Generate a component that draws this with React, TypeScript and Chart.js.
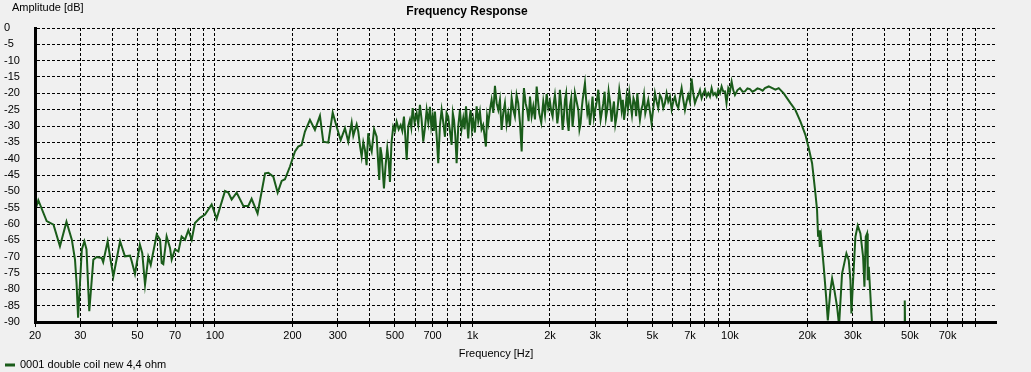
import React, { useEffect, useRef } from 'react';
import { Chart, registerables } from 'chart.js';

Chart.register(...registerables);

// ---- data (frequency in Hz, amplitude in dB) ----
// 20 Hz - 190 Hz
const freqLowHz: number[] = [
  20, 20.6, 22.2, 23.6, 25.0, 26.5, 27.8, 28.6, 29.0, 29.4,
  30.4, 31.1, 31.7, 32.5, 33.7, 34.7, 36.3, 36.8, 38.3, 39.1,
  40.3, 42.8, 44.7, 46.8, 47.5, 48.9, 51.1, 52.2, 53.5, 55.1,
  56.3, 59.4, 61.2, 62.1, 63.0, 64.9, 66.9, 67.9, 69.9, 72.1,
  74.2, 76.5, 78.8, 81.2, 83.6, 87.5, 91.5, 97.1, 101.5, 109.4,
  112.7, 116.1, 121.4, 128.9, 134.7, 138.8, 146.4, 156.5, 161.2, 168.5,
  175.2, 181.6, 187.0,
];
const dbLow: number[] = [
  -56.0, -52.7, -59.1, -60.2, -66.8, -59.3, -64.8, -70.9, -78.0, -88.7,
  -67.8, -65.3, -67.8, -86.7, -70.9, -70.1, -70.4, -71.7, -65.3, -69.9,
  -76.0, -65.3, -69.9, -69.7, -71.4, -75.3, -66.3, -68.9, -78.6, -70.1,
  -72.5, -63.2, -64.8, -71.9, -72.3, -63.8, -67.3, -70.9, -67.8, -68.4,
  -63.8, -64.8, -61.9, -64.8, -59.7, -58.1, -57.1, -54.0, -58.4, -49.9,
  -50.4, -52.5, -50.4, -54.5, -54.5, -52.3, -56.8, -44.5, -44.3, -45.5,
  -50.4, -46.8, -46.3,
];

// 195 Hz - 330 Hz
const freqRiseHz: number[] = [
  195.6, 204.5, 210.6, 217, 223.6, 233.8, 244.5, 255.7, 263.4, 275.5,
  286.6, 296.9, 307.7, 319.8, 329.4,
];
const dbRise: number[] = [
  -42.4, -37.8, -36.3, -35.8, -31.7, -28.1, -31.2, -26.9, -34.8, -35.1,
  -25.9, -30.2, -34.3, -30.7, -34.8,
];

// 340 Hz - 1.97 kHz
const freqMidHz: number[] = [
  339.6, 344.6, 349.7, 355, 360.3, 365.8, 371.3, 376.8, 382.4, 388,
  393.8, 400, 406.1, 415, 424.6, 429.5, 434.6, 439, 444, 448.5,
  453.2, 460, 466.8, 472.5, 478.2, 485, 492.5, 500, 507.7, 517,
  526.2, 534, 542, 548.5, 555.3, 563.5, 571.9, 578.8, 585.8, 596,
  607.1, 616, 625.3, 634.5, 644, 654, 663.9, 674, 683.9, 692,
  700.5, 708, 715, 726, 736.5, 747.5, 759, 770.5, 782, 793.5,
  805, 817.5, 830, 839, 848, 858, 868, 881, 894, 907,
  921, 932.5, 944, 953.5, 963, 973.5, 984, 995.5, 1007, 1022,
  1038, 1053.5, 1069, 1085, 1101, 1114.5, 1128, 1140, 1152, 1169.5,
  1187, 1205, 1223, 1241.5, 1260, 1279, 1298, 1317.5, 1337, 1357,
  1377, 1398.5, 1420, 1441, 1462, 1484, 1506, 1529.5, 1553, 1569,
  1585, 1608.5, 1632, 1652.5, 1673, 1698, 1723, 1749.5, 1776, 1796.5,
  1817, 1850.5, 1884, 1913, 1942, 1971,
];
const dbMid: number[] = [
  -29.0, -33.0, -31.2, -29.5, -31.7, -36.0, -39.4, -35.0, -37.3, -42.0,
  -32.2, -36.0, -37.8, -31.0, -33.3, -40.0, -46.5, -36.5, -38.9, -44.0,
  -49.1, -42.0, -36.8, -40.5, -47.1, -35.0, -30.2, -31.5, -28.7, -31.0,
  -29.7, -31.5, -27.1, -33.0, -40.4, -30.0, -28.1, -30.5, -24.5, -29.0,
  -26.1, -29.5, -23.5, -28.0, -34.8, -30.5, -25.1, -29.0, -24.1, -30.0,
  -27.1, -31.5, -25.6, -33.0, -41.4, -30.0, -25.1, -29.0, -33.3, -26.0,
  -27.1, -31.5, -35.8, -26.0, -28.1, -33.0, -41.4, -30.0, -25.1, -31.0,
  -27.6, -31.0, -24.0, -29.0, -33.8, -28.0, -25.1, -31.0, -28.1, -32.0,
  -24.0, -28.5, -25.6, -31.0, -29.7, -33.0, -36.3, -27.0, -29.2, -25.0,
  -22.0, -26.0, -17.7, -23.0, -25.1, -22.0, -31.2, -26.0, -23.0, -29.5,
  -26.1, -30.0, -21.5, -25.0, -27.1, -20.5, -23.0, -29.0, -37.8, -26.0,
  -18.4, -23.0, -25.1, -28.5, -21.0, -27.0, -24.0, -28.0, -17.9, -22.0,
  -26.1, -29.0, -22.5, -26.5, -20.2, -24.5,
];

// 2 kHz - 13.7 kHz
const freqHighHz: number[] = [
  2000, 2024, 2048, 2069.5, 2091, 2113.5, 2136, 2161, 2186, 2213,
  2240, 2263.5, 2287, 2311.5, 2336, 2363.5, 2391, 2419.5, 2448, 2474,
  2500, 2538.5, 2577, 2604, 2631, 2655, 2679, 2707, 2735, 2764.5,
  2794, 2826.5, 2859, 2893, 2927, 2962.5, 2998, 3040, 3082, 3114,
  3146, 3184, 3222, 3261, 3300, 3340, 3380, 3426, 3472, 3508.5,
  3545, 3587.5, 3630, 3674, 3718, 3757, 3796, 3837, 3878, 3924,
  3970, 4018, 4066, 4115, 4164, 4221, 4278, 4323, 4368, 4420,
  4472, 4527, 4582, 4637, 4692, 4755, 4818, 4890, 4962, 5038,
  5114, 5191, 5268, 5348, 5428, 5510, 5592, 5676, 5760, 5849,
  5938, 6028, 6118, 6210, 6302, 6397, 6492, 6590, 6688, 6789,
  6890, 6994, 7098, 7206, 7314, 7425, 7536, 7650, 7764, 7881,
  7998, 8119, 8240, 8365, 8490, 8618, 8746, 8879, 9012, 9148,
  9284, 9424, 9564, 9700, 9854, 10000, 10154, 10300, 10458, 10700,
  10940, 11200, 11438, 11700, 11956, 12230, 12506, 12800, 13078, 13400,
  13678,
];
const dbHigh: number[] = [
  -22.5, -25.5, -27.1, -23.0, -20.5, -24.0, -29.2, -26.0, -18.9, -24.0,
  -31.2, -27.5, -22.0, -20.0, -28.1, -31.5, -24.0, -21.5, -30.2, -26.5,
  -19.9, -22.5, -25.1, -31.0, -29.2, -25.0, -22.0, -19.5, -16.9, -22.0,
  -26.1, -24.0, -29.7, -26.0, -21.0, -27.5, -25.1, -22.5, -18.9, -24.0,
  -28.1, -25.5, -23.0, -19.5, -27.5, -25.0, -19.4, -23.0, -28.7, -25.0,
  -22.5, -29.5, -27.1, -23.5, -18.9, -21.5, -25.1, -22.0, -28.1, -25.0,
  -21.0, -24.5, -19.9, -23.5, -26.6, -21.5, -23.0, -27.0, -19.9, -24.5,
  -28.1, -25.0, -23.5, -20.5, -26.1, -24.0, -22.0, -25.5, -29.2, -24.5,
  -19.9, -22.5, -24.5, -20.5, -21.5, -24.5, -23.0, -20.0, -22.5, -21.0,
  -24.9, -22.5, -21.0, -23.5, -24.5, -21.0, -18.4, -22.0, -25.1, -22.5,
  -20.5, -22.5, -15.5, -20.0, -23.0, -21.5, -20.5, -19.0, -21.5, -20.0,
  -18.9, -21.0, -19.9, -21.0, -18.4, -20.5, -19.9, -21.0, -18.9, -20.0,
  -17.9, -19.5, -19.4, -23.0, -18.4, -19.5, -16.4, -19.0, -20.5, -19.0,
  -18.4, -19.5, -19.4, -18.5, -18.7, -19.5, -19.1, -18.5, -18.7, -19.2,
  -18.4,
];

// 14 kHz - end (roll-off, values below -90 are off the chart)
const freqTopHz: number[] = [
  14150, 15020, 15470, 16180, 17180, 17960, 18780, 19640, 20240, 20850,
  21480, 21800, 22000, 22200, 22340, 22600, 23140, 23640, 24000, 24560,
  24940, 25460, 26080, 26540, 27260, 28340, 28940, 29380, 29640, 30000,
  30720, 31360, 32120, 32900, 33300, 33700, 34100, 34300, 34620, 35660,
  37000, 47000, 47500, 47760, 48000, 48500, 60000, 108000,
];
const dbTop: number[] = [
  -17.9, -18.9, -18.4, -20.0, -23.0, -25.1, -28.6, -32.7, -36.8, -41.4,
  -50.6, -55.7, -63.9, -61.9, -67.0, -63.9, -73.1, -82.3, -89.5, -80.3,
  -76.7, -80.3, -85.4, -91.0, -75.2, -69.0, -71.1, -77.2, -87.4, -79.2,
  -63.9, -60.5, -62.9, -70.0, -79.2, -63.9, -62.9, -77.2, -73.1, -91.0,
  -100, -100, -96, -83.4, -96, -100, -100, -100,
];

const yTickValues: number[] = [0, -5, -10, -15, -20, -25, -30, -35, -40, -45, -50, -55, -60, -65, -70, -75, -80, -85, -90];
const xDecades: number[] = [10, 100, 1000, 10000];
const xGridMantissas: number[] = [1, 2, 3, 4, 5, 6, 7, 8, 9];
const xLabelMantissas: number[] = [1, 2, 3, 5, 7];
const xMin = 20;
const xMax = 108000;
const xLastGrid = 90000;

const seriesLabel = '0001 double coil new 4,4 ohm';
const chartTitle = 'Frequency Response';
const xAxisTitle = 'Frequency [Hz]';
const yAxisTitle = 'Amplitude [dB]';

const LINE_COLOR = '#1a5c1a';
const BG = '#f0f0f0';
const FONT_FAMILY = '"Liberation Sans", Arial, sans-serif';

const freqHz: number[] = [...freqLowHz, ...freqRiseHz, ...freqMidHz, ...freqHighHz, ...freqTopHz];
const amplitudeDb: number[] = [...dbLow, ...dbRise, ...dbMid, ...dbHigh, ...dbTop];

const xTickValues: number[] = [];
xDecades.forEach((d) => xGridMantissas.forEach((m) => {
  const v = d * m;
  if (v >= xMin && v <= xLastGrid) xTickValues.push(v);
}));

function mantissaOf(v: number): number {
  const p = Math.pow(10, Math.floor(Math.log10(v) + 1e-9));
  return Math.round(v / p);
}

function formatFreq(v: number): string {
  if (v >= 1000) return `${Math.round(v / 1000)}k`;
  return `${Math.round(v)}`;
}

const bgPlugin = {
  id: 'bgFill',
  beforeDraw(chart: any) {
    const { ctx, width, height } = chart;
    ctx.save();
    ctx.fillStyle = BG;
    ctx.fillRect(0, 0, width, height);
    ctx.restore();
  },
};

const textPlugin = {
  id: 'extraTexts',
  afterDraw(chart: any) {
    const { ctx } = chart;
    ctx.save();
    ctx.fillStyle = '#000';
    ctx.textBaseline = 'middle';
    ctx.font = `bold 12px ${FONT_FAMILY}`;
    ctx.textAlign = 'center';
    ctx.fillText(chartTitle, 467, 12);
    ctx.font = `11px ${FONT_FAMILY}`;
    ctx.textAlign = 'left';
    ctx.fillText(yAxisTitle, 12, 8);
    ctx.textAlign = 'center';
    ctx.fillText(xAxisTitle, 496, 354);
    // legend
    ctx.strokeStyle = LINE_COLOR;
    ctx.lineWidth = 3;
    ctx.beginPath();
    ctx.moveTo(5, 365);
    ctx.lineTo(15, 365);
    ctx.stroke();
    ctx.textAlign = 'left';
    ctx.fillText(seriesLabel, 20, 365);
    ctx.restore();
  },
};

export default function App() {
  const canvasRef = useRef<HTMLCanvasElement | null>(null);

  useEffect(() => {
    document.body.style.margin = '0';
    const canvas = canvasRef.current;
    if (!canvas) return;
    const points = freqHz.map((f, i) => ({ x: f, y: amplitudeDb[i] }));
    const chart = new Chart(canvas, {
      type: 'line',
      data: {
        datasets: [
          {
            label: seriesLabel,
            data: points,
            borderColor: LINE_COLOR,
            backgroundColor: LINE_COLOR,
            borderWidth: 2,
            pointRadius: 0,
            tension: 0,
            fill: false,
          },
        ],
      },
      options: {
        animation: false,
        responsive: false,
        devicePixelRatio: 1,
        layout: { padding: { left: 4, right: 35, top: 28, bottom: 0 } },
        plugins: {
          legend: { display: false },
          title: { display: false },
          tooltip: { enabled: false },
        },
        scales: {
          x: {
            type: 'logarithmic',
            min: xMin,
            max: xMax,
            afterBuildTicks: (scale: any) => {
              scale.ticks = xTickValues.map((v) => ({ value: v }));
            },
            afterFit: (scale: any) => {
              scale.height = 50;
            },
            grid: {
              color: '#000',
              lineWidth: 1,
              drawTicks: true,
              tickLength: 5,
              tickColor: '#000',
            },
            border: { display: true, color: '#000', width: 3, dash: [3, 2], z: 1 },
            ticks: {
              autoSkip: false,
              maxRotation: 0,
              minRotation: 0,
              padding: 2,
              color: '#000',
              font: { family: FONT_FAMILY, size: 11 },
              callback: (value: any) => {
                const v = Number(value);
                return xLabelMantissas.includes(mantissaOf(v)) ? formatFreq(v) : '';
              },
            },
          },
          y: {
            type: 'linear',
            min: -90,
            max: 0,
            afterBuildTicks: (scale: any) => {
              scale.ticks = yTickValues.map((v) => ({ value: v }));
            },
            afterFit: (scale: any) => {
              scale.width = 31;
            },
            grid: {
              color: '#000',
              lineWidth: 1,
              drawTicks: false,
            },
            border: { display: true, color: '#000', width: 3, dash: [3, 2], z: 1 },
            ticks: {
              crossAlign: 'far',
              padding: 0,
              color: '#000',
              font: { family: FONT_FAMILY, size: 11 },
              callback: (value: any) => `${value}`,
            },
          },
        },
      },
      plugins: [bgPlugin, textPlugin],
    } as any);
    return () => chart.destroy();
  }, []);

  return (
    <div style={{ position: 'fixed', left: 0, top: 0, width: 1031, height: 372, background: BG }}>
      <canvas ref={canvasRef} width={1031} height={372} style={{ display: 'block', width: 1031, height: 372 }} />
    </div>
  );
}
